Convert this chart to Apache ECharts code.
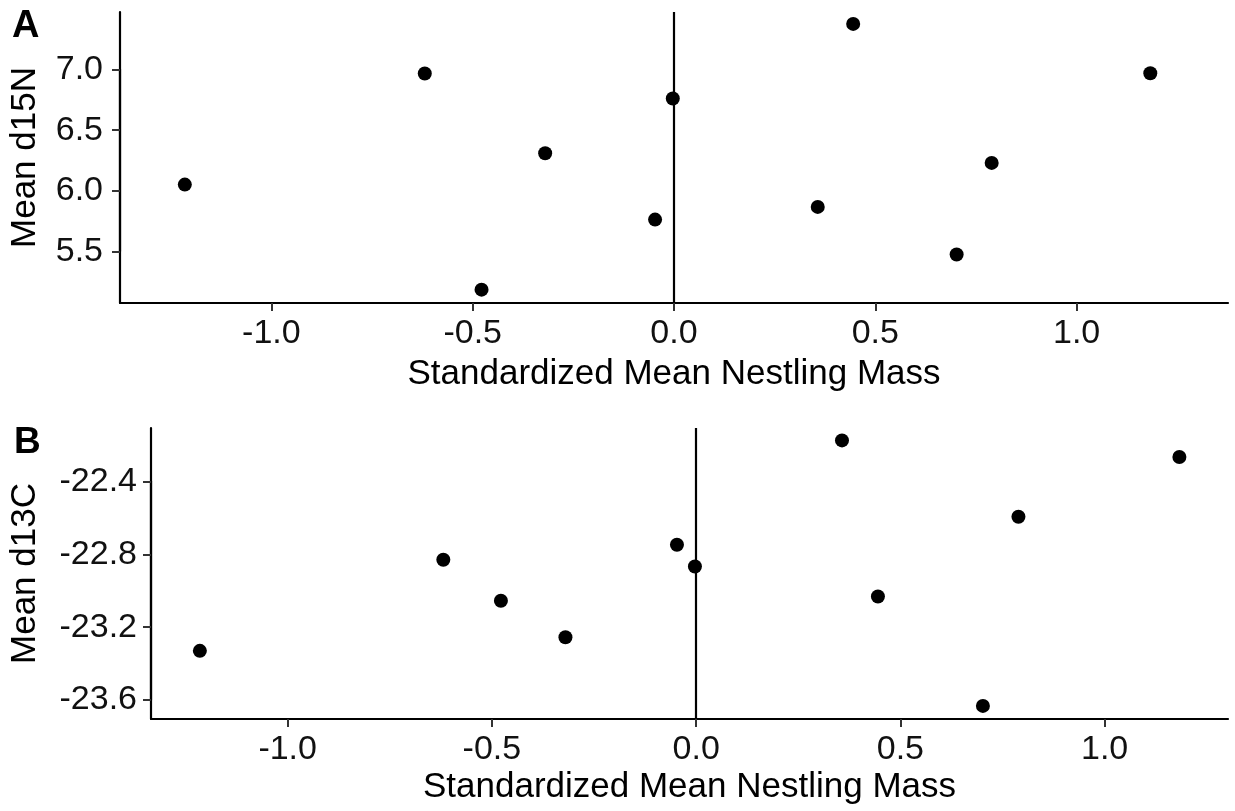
<!DOCTYPE html>
<html>
<head>
<meta charset="utf-8">
<script src="https://cdn.jsdelivr.net/npm/echarts@6/dist/echarts.min.js"></script>
<style>
html,body{margin:0;padding:0;background:#fff;}
#chart{width:1235px;height:811px;}
</style>
</head>
<body>
<div id="chart"></div>
<script>
// Data
const massX   = [-1.215, -0.619, -0.478, -0.320, -0.047, -0.003, 0.357, 0.445, 0.702, 0.789, 1.183];
const d15N    = [6.051, 6.967, 5.184, 6.309, 5.762, 6.761, 5.867, 7.377, 5.474, 6.230, 6.970];
const d13C    = [-23.330, -22.830, -23.055, -23.255, -22.748, -22.867, -22.175, -23.032, -23.632, -22.594, -22.266];
const xTicks  = [-1.0, -0.5, 0.0, 0.5, 1.0];
const yTicksA = [5.5, 6.0, 6.5, 7.0];
const yTicksB = [-23.6, -23.2, -22.8, -22.4];
const xRangeA = [-1.376, 1.376];
const yRangeA = [5.074, 7.475];
const xRangeB = [-1.3346, 1.302];
const yRangeB = [-23.704, -22.107];
const xTitle  = 'Standardized Mean Nestling Mass';
const yTitleA = 'Mean d15N';
const yTitleB = 'Mean d13C';
const panelLabels = ['A', 'B'];

const FONT = 'Liberation Sans, Arial, sans-serif';
const TICK_FS = 34;
const TITLE_FS = 35;
const TICK_LEN = 8;

const boxA = {left:120, top:12, width:1108, height:291};
const boxB = {left:151, top:428, width:1077, height:291};

function pairs(xs, ys){ return xs.map((x,i)=>[x, ys[i]]); }
function fmt(v){ return Number(v).toFixed(1); }
function frac(v, r){ return (v - r[0]) / (r[1] - r[0]); }
function gridOf(b){ return Object.assign({containLabel:false}, b); }

// Helper grids spanning exactly the first..last tick, so the axis' own ticks fall on the tick values
function xTickGrid(b, xr, ticks){
  const l = b.left + frac(ticks[0], xr) * b.width;
  const r = b.left + frac(ticks[ticks.length-1], xr) * b.width;
  return gridOf({left:l, top:b.top, width:r - l, height:b.height});
}
function yTickGrid(b, yr, ticks){
  const t = b.top + (1 - frac(ticks[ticks.length-1], yr)) * b.height;
  const bt = b.top + (1 - frac(ticks[0], yr)) * b.height;
  return gridOf({left:b.left, top:t, width:b.width, height:bt - t});
}
function tickAxis(gi, ticks){
  return {
    type:'value', gridIndex:gi, min:ticks[0], max:ticks[ticks.length-1], interval:+(ticks[1]-ticks[0]).toFixed(6),
    axisLine:{show:true, onZero:false, lineStyle:{color:'#000', width:2.2}},
    axisLabel:{show:false}, splitLine:{show:false},
    axisTick:{show:true, inside:false, length:TICK_LEN, lineStyle:{color:'#333', width:2}}
  };
}
function hiddenAxis(gi){
  return {type:'value', gridIndex:gi, min:0, max:1, show:false};
}

function xAxisCfg(gridIndex, range, gap){
  return {
    type:'value', gridIndex, min:range[0], max:range[1],
    name: xTitle, nameLocation:'middle', nameGap:gap,
    nameTextStyle:{fontFamily:FONT, fontSize:TITLE_FS, color:'#000'},
    axisLine:{show:true, onZero:false, lineStyle:{color:'#000', width:2.2}},
    axisTick:{show:false},
    axisLabel:{show:true, margin:14, fontFamily:FONT, fontSize:TICK_FS, color:'#111', formatter:fmt, customValues:xTicks},
    splitLine:{show:false}
  };
}
function yAxisCfg(gridIndex, range, ticks, title, gap, margin){
  return {
    type:'value', gridIndex, min:range[0], max:range[1],
    name: title, nameLocation:'middle', nameGap:gap,
    nameTextStyle:{fontFamily:FONT, fontSize:TITLE_FS, color:'#000'},
    axisLine:{show:true, onZero:false, lineStyle:{color:'#000', width:2.2}},
    axisTick:{show:false},
    axisLabel:{show:true, margin:margin, fontFamily:FONT, fontSize:TICK_FS, color:'#111', formatter:fmt, customValues:ticks},
    splitLine:{show:false}
  };
}
function zeroLine(){
  return {
    silent:true, symbol:['none','none'], label:{show:false},
    lineStyle:{color:'#000', width:2.2, type:'solid', opacity:1},
    emphasis:{disabled:true},
    data:[{xAxis:0}]
  };
}

const chart = echarts.init(document.getElementById('chart'), null, {renderer:'canvas'});
chart.setOption({
  animation:false,
  backgroundColor:'#fff',
  title:[
    {text:panelLabels[0], left:12, top:8, padding:0, textStyle:{fontFamily:FONT, fontSize:38, fontWeight:'bold', color:'#000'}},
    {text:panelLabels[1], left:14, top:424, padding:0, textStyle:{fontFamily:FONT, fontSize:37, fontWeight:'bold', color:'#000'}}
  ],
  grid:[
    gridOf(boxA),                       // 0 panel A
    gridOf(boxB),                       // 1 panel B
    xTickGrid(boxA, xRangeA, xTicks),   // 2 A x ticks
    yTickGrid(boxA, yRangeA, yTicksA),  // 3 A y ticks
    xTickGrid(boxB, xRangeB, xTicks),   // 4 B x ticks
    yTickGrid(boxB, yRangeB, yTicksB)   // 5 B y ticks
  ],
  xAxis:[
    xAxisCfg(0, xRangeA, 54),
    xAxisCfg(1, xRangeB, 51),
    tickAxis(2, xTicks),
    hiddenAxis(3),
    tickAxis(4, xTicks),
    hiddenAxis(5)
  ],
  yAxis:[
    yAxisCfg(0, yRangeA, yTicksA, yTitleA, 77, 17),
    yAxisCfg(1, yRangeB, yTicksB, yTitleB, 108, 14),
    hiddenAxis(2),
    tickAxis(3, yTicksA),
    hiddenAxis(4),
    tickAxis(5, yTicksB)
  ],
  series:[
    {type:'scatter', xAxisIndex:0, yAxisIndex:0, data:pairs(massX, d15N), symbol:'circle', symbolSize:14,
     itemStyle:{color:'#000', opacity:1}, markLine:zeroLine(), z:3},
    {type:'scatter', xAxisIndex:1, yAxisIndex:1, data:pairs(massX, d13C), symbol:'circle', symbolSize:14,
     itemStyle:{color:'#000', opacity:1}, markLine:zeroLine(), z:3}
  ]
});
</script>
</body>
</html>
